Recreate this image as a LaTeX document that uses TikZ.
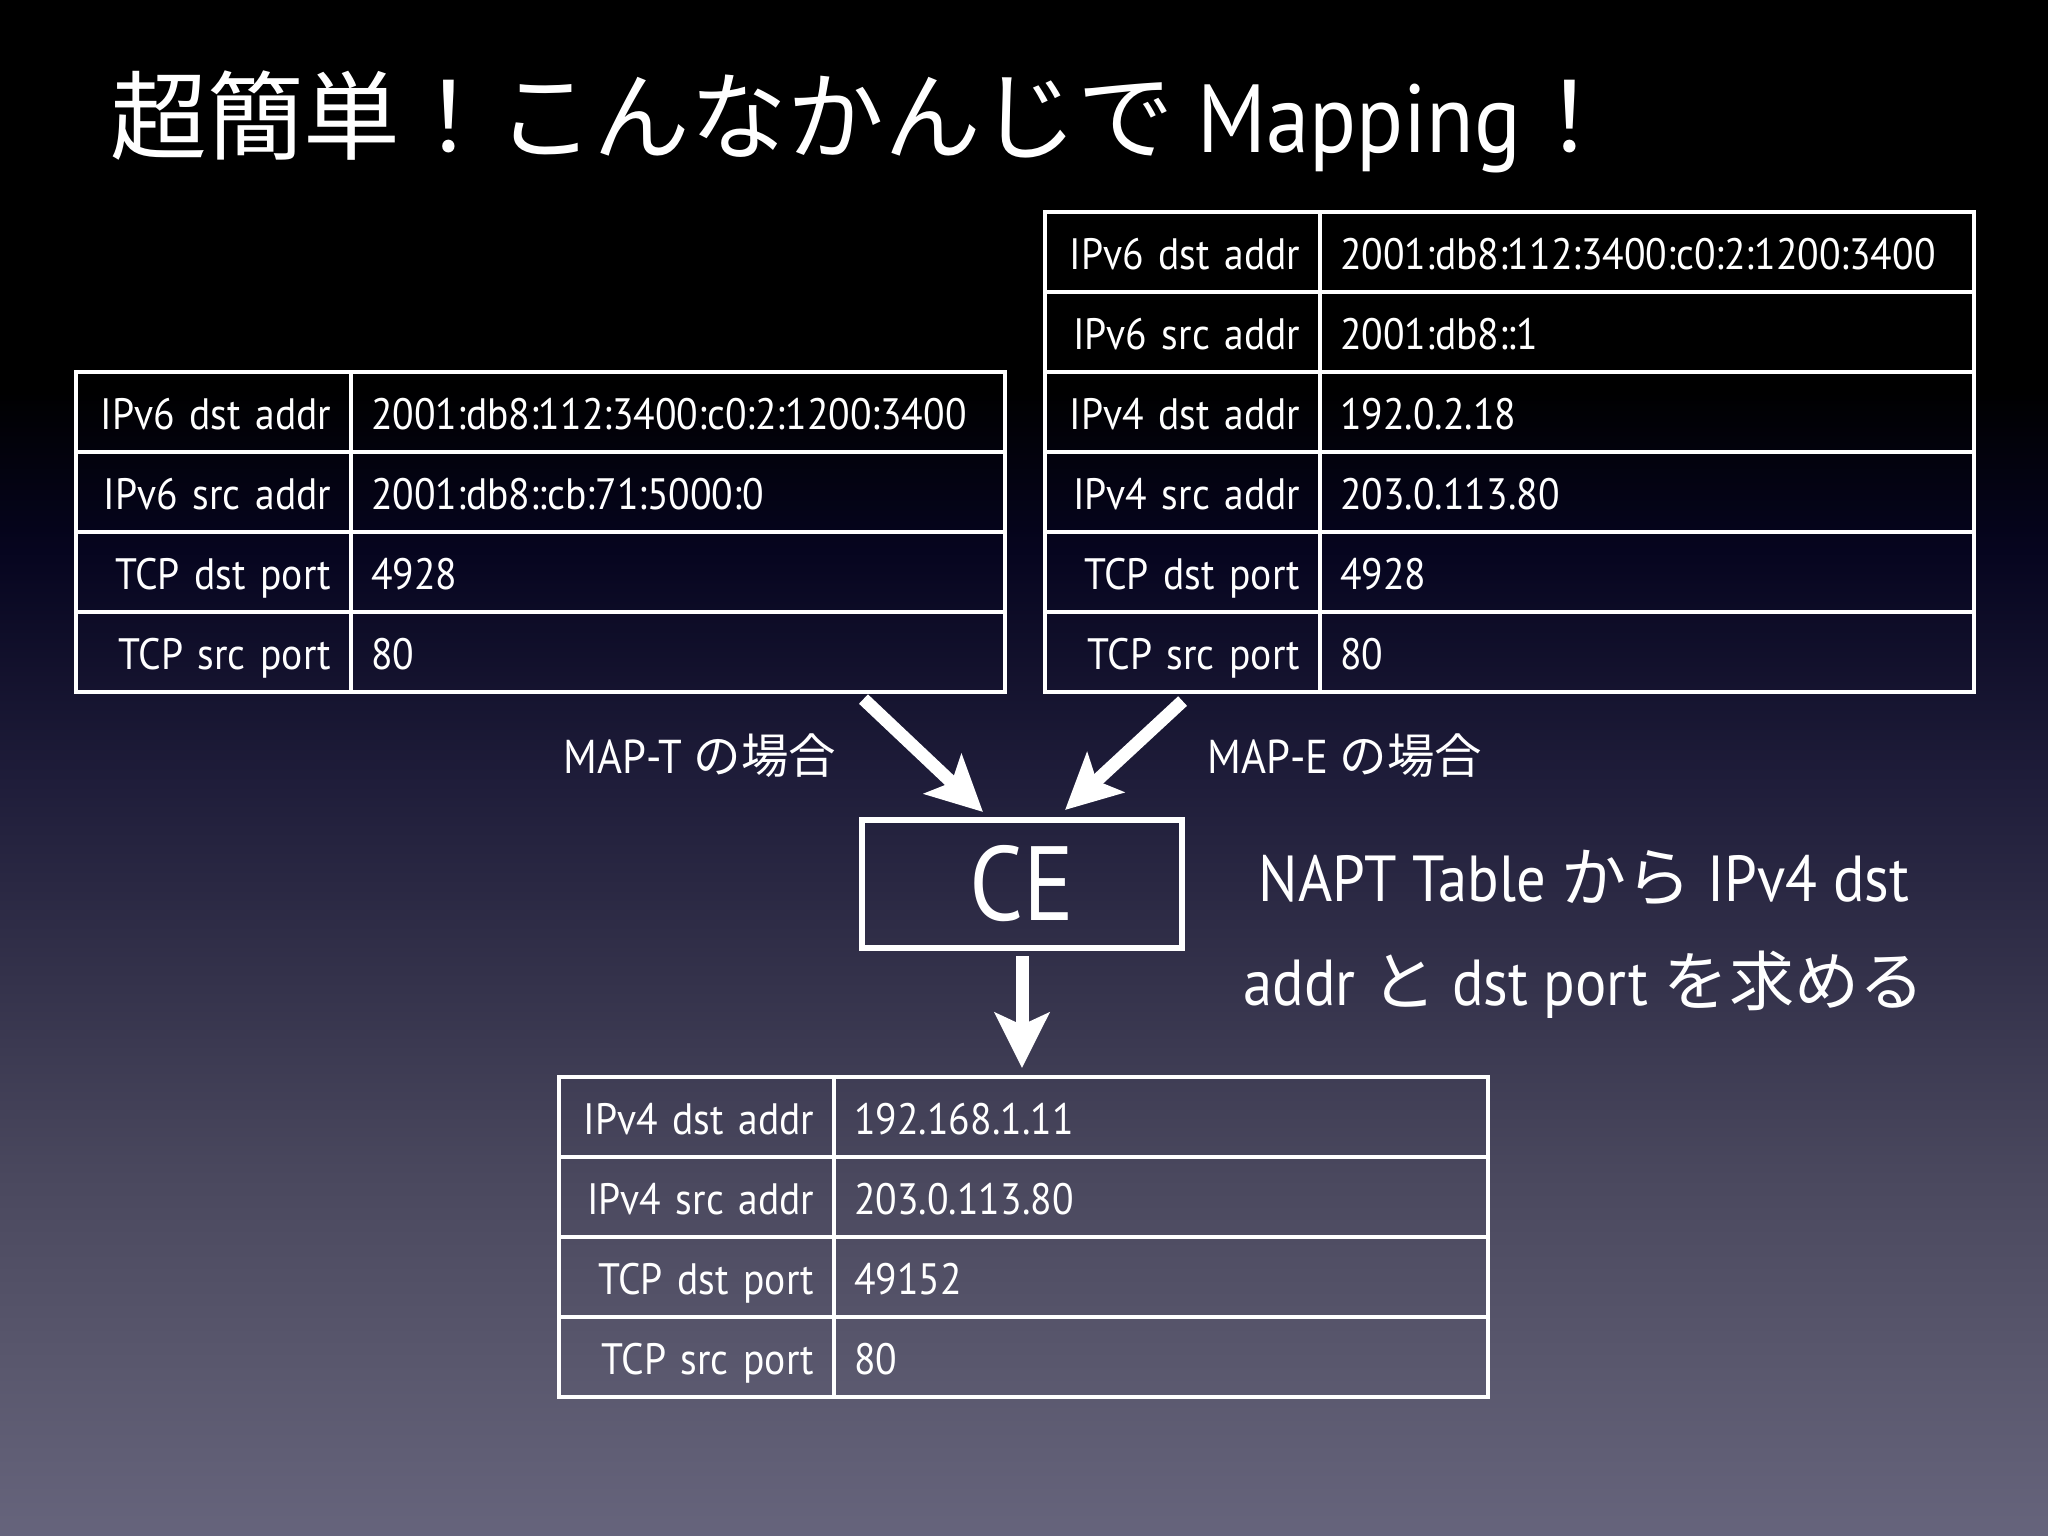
\documentclass[tikz,border=0pt]{standalone}
\usepackage{fontspec}
\setmainfont{PT Sans}[FakeStretch=0.9]
\newfontfamily\jp{Noto Sans CJK JP}
\usepackage{tikz}
\usetikzlibrary{calc,arrows.meta}
\definecolor{bgA}{RGB}{102,100,124}
\definecolor{bgB}{RGB}{90,88,110}
\definecolor{bgC}{RGB}{74,72,94}
\definecolor{bgD}{RGB}{52,50,75}
\definecolor{bgE}{RGB}{31,29,58}
\definecolor{bgF}{RGB}{6,5,31}
\pgfdeclareverticalshading{slidebg}{100bp}{color(0bp)=(bgA); color(25bp)=(bgA);
  color(30.3bp)=(bgB); color(36.7bp)=(bgC); color(43.1bp)=(bgD);
  color(49.5bp)=(bgE); color(57.1bp)=(bgF); color(62.4bp)=(black); color(100bp)=(black)}
\tikzset{
  field name/.style={draw=white, line width=0.04cm, anchor=north west,
    minimum height=0.8cm, minimum width=2.75cm, text width=2.35cm,
    inner xsep=0.2cm, inner ysep=0pt, outer sep=0pt, align=right,
    text height=0.42cm, text depth=0.08cm, font=\fontsize{12.5}{15}\selectfont},
  field value/.style={field name, anchor=west, minimum width=6.53cm,
    text width=6.13cm, align=left},
  ce box/.style={draw=white, line width=0.06cm, minimum width=3.2cm,
    minimum height=1.28cm, outer sep=0pt, font=\fontsize{30}{32}\selectfont},
  case label/.style={anchor=base, font=\fontsize{13.5}{15}\selectfont},
  note/.style={anchor=base, align=center, font=\fontsize{18.5}{29.3}\selectfont},
  bold arrow/.style={draw=white, line width=0.13cm,
    -{Stealth[length=0.55cm, width=0.54cm, inset=0.12cm]}}
}
% one table = a corner coordinate, one row = label cell + value cell
\def\PacketTable#1#2#3{%
  \coordinate (#1) at (#2,#3);
}
\def\Field#1#2#3#4{%
  \node[field name] (#1#2) at ($(#1)+(0,{(#2-1)*80})$) {#3};
  \node[field value] (#1#2v) at (#1#2.east) {#4};
}
\begin{document}
\begin{tikzpicture}[x=0.01cm, y=-0.01cm, color=white]
\useasboundingbox (0,0) rectangle (2048,1536);
\shade[shading=slidebg] (0,0) rectangle (2048,1536);

\node[anchor=base west, font=\fontsize{27.5}{32}\selectfont] (title) at (98,152)
  {{\jp 超簡単！こんなかんじで} Mapping{\jp ！}};

% MAP-T
\PacketTable{mapt}{76}{372}
\Field{mapt}{1}{IPv6 dst addr}{2001:db8:112:3400:c0:2:1200:3400}
\Field{mapt}{2}{IPv6 src addr}{2001:db8::cb:71:5000:0}
\Field{mapt}{3}{TCP dst port}{4928}
\Field{mapt}{4}{TCP src port}{80}

% MAP-E
\PacketTable{mape}{1045}{212}
\Field{mape}{1}{IPv6 dst addr}{2001:db8:112:3400:c0:2:1200:3400}
\Field{mape}{2}{IPv6 src addr}{2001:db8::1}
\Field{mape}{3}{IPv4 dst addr}{192.0.2.18}
\Field{mape}{4}{IPv4 src addr}{203.0.113.80}
\Field{mape}{5}{TCP dst port}{4928}
\Field{mape}{6}{TCP src port}{80}

% LAN side
\PacketTable{lan}{559}{1077}
\Field{lan}{1}{IPv4 dst addr}{192.168.1.11}
\Field{lan}{2}{IPv4 src addr}{203.0.113.80}
\Field{lan}{3}{TCP dst port}{49152}
\Field{lan}{4}{TCP src port}{80}

\node[ce box] (ce) at (1022,884) {CE};

\node[case label] (maptcase) at (700,773) {MAP-T {\jp の場合}};
\node[case label] (mapecase) at (1345,773) {MAP-E {\jp の場合}};
\node[note] (napt) at (1584,1005)
  {NAPT Table {\jp から} IPv4 dst\\addr {\jp と} dst port {\jp を求める}};

\draw[bold arrow] ([xshift=-1.41cm, yshift=-0.07cm]mapt4v.south east)
  -- ([xshift=-0.39cm, yshift=0.08cm]ce.north);
\draw[bold arrow] ([yshift=-0.09cm]mape6.south)
  -- ([xshift=0.43cm, yshift=0.10cm]ce.north);
\draw[bold arrow, shorten <=0.08cm, shorten >=0.09cm]
  (ce.south) -- (ce.south |- lan1v.north);
\end{tikzpicture}
\end{document}
